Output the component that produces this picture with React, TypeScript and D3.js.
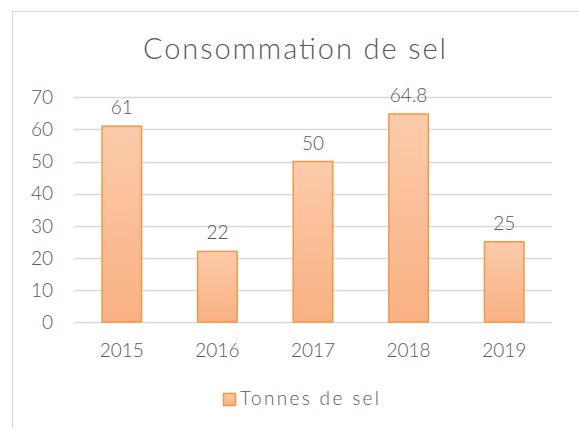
import React from 'react';
import * as d3 from 'd3';

const years = ['2015', '2016', '2017', '2018', '2019'];
const values = [61, 22, 50, 64.8, 25];
const valueLabels = ['61', '22', '50', '64.8', '25'];
const yTicks = [0, 10, 20, 30, 40, 50, 60, 70];
const title = 'Consommation de sel';
const seriesName = 'Tonnes de sel';

const W = 579;
const H = 428;
const FONT = 'Lato, "Open Sans", sans-serif';
const TXT = '#595959';

export default function App() {
  const x = d3.scaleBand<string>().domain(years).range([74, 552]).paddingInner(0.587).paddingOuter(0.2935);
  const y = d3.scaleLinear().domain([0, 70]).range([322, 97.3]);

  return (
    <svg width={W} height={H} style={{ position: 'absolute', left: 0, top: 0, background: '#fff' }}>
      <defs>
        <linearGradient id="barGrad" x1="0" y1="0" x2="0" y2="1">
          <stop offset="0%" stopColor="#FBCBAA" />
          <stop offset="100%" stopColor="#F9B183" />
        </linearGradient>
      </defs>
      <rect x={12.5} y={11.5} width={W} height={H} fill="#fff" stroke="#D9D9D9" strokeWidth={1} />
      <text x={143} y={59} textLength={303} lengthAdjust="spacing" fontFamily={FONT} fontWeight={300} fontSize={29} fill={TXT}>
        {title}
      </text>
      {yTicks.map((t) => (
        <g key={t}>
          <line x1={74} x2={552} y1={Math.round(y(t)) + 0.5} y2={Math.round(y(t)) + 0.5} stroke="#D9D9D9" strokeWidth={1.3} />
          <text x={53} y={y(t)} dy="0.36em" textAnchor="end" fontFamily={FONT} fontWeight={300} fontSize={19} fill={TXT}>
            {t}
          </text>
        </g>
      ))}
      {years.map((yr, i) => {
        const bx = x(yr)!;
        const bw = x.bandwidth();
        return (
          <g key={yr}>
            <rect x={bx} y={y(values[i])} width={bw} height={y(0) - y(values[i])} fill="url(#barGrad)" stroke="#F79646" strokeWidth={1.5} />
            <text x={bx + bw / 2} y={y(values[i]) - 12} textAnchor="middle" fontFamily={FONT} fontWeight={300} fontSize={19} fill={TXT}>
              {valueLabels[i]}
            </text>
            <text x={bx + bw / 2} y={357} textAnchor="middle" fontFamily={FONT} fontWeight={300} fontSize={19} fill={TXT}>
              {yr}
            </text>
          </g>
        );
      })}
      <rect x={223.5} y={393.5} width={12} height={12} fill="url(#barGrad)" stroke="#F79646" strokeWidth={1.5} />
      <text x={240} y={405} textLength={139} lengthAdjust="spacing" fontFamily={FONT} fontWeight={300} fontSize={19} fill={TXT}>
        {seriesName}
      </text>
    </svg>
  );
}
